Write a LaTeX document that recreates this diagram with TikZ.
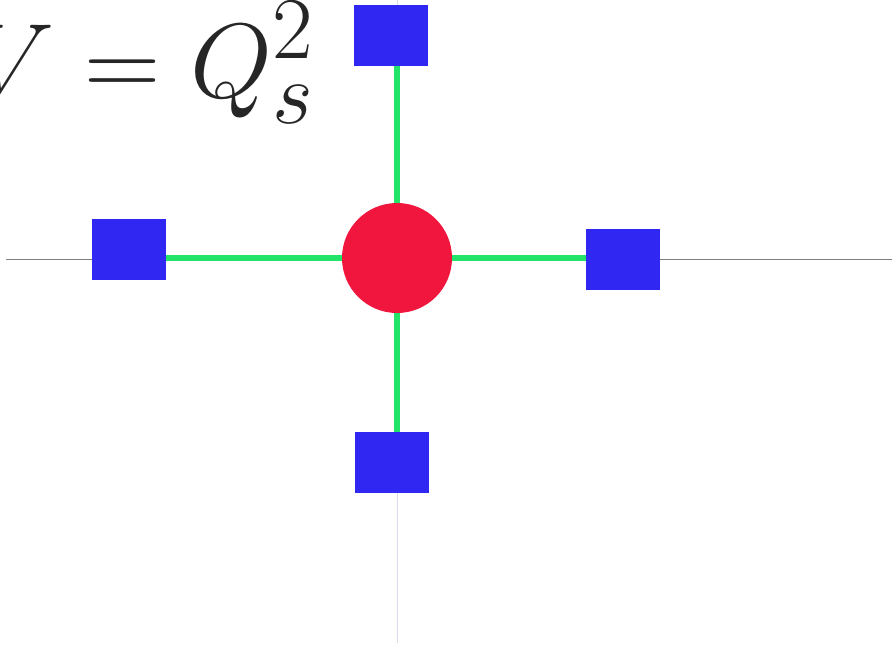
\documentclass[tikz,border=0pt]{standalone}
\usepackage{graphicx}
\usepackage{tikz}
\usetikzlibrary{
    positioning,
    backgrounds
}
\definecolor{siteblue}{RGB}{48,40,242}
\definecolor{corered}{RGB}{240,22,62}
\definecolor{bondgreen}{RGB}{34,228,104}
\definecolor{axisline}{RGB}{220,220,236}

\begin{document}
\begin{tikzpicture}[
        x=1pt, y=-1pt,
        every node/.style={inner sep=0pt, outer sep=0pt},
        site/.style={
            rectangle,
            fill=siteblue,
            minimum width=74pt,
            minimum height=61pt
        },
        core/.style={
            circle,
            fill=corered,
            minimum size=110pt
        },
        bond/.style={line width=6pt, draw=bondgreen},
        haxis/.style={line width=1pt, draw=black!50},
        vaxis/.style={line width=1.5pt, draw=axisline}
    ]
        \useasboundingbox (0,0) rectangle (894,648);

        % Label
        \node[anchor=base west, text=black!85] (label) at (-28,97)
            {\scalebox{4.25}{\Huge $V = Q_s^2$}};

        % Central site and its neighbours
        \node[core] (core) at (397,258) {};
        \node[site] (top) at (391,35.5) {};
        \node[site] (left) at (129,249) {};
        \node[site] (right) at (623,259) {};
        \node[site] (bottom) at (391.5,462.5) {};

        \coordinate (axl) at (6,259);
        \coordinate (axr) at (892,259);
        \coordinate (axt) at (397.5,0);
        \coordinate (axb) at (397.5,643);

        \begin{scope}[on background layer]
            \draw[haxis] (axl) -- (axr);
            \draw[vaxis] (axt) -- (axb);
            \draw[bond] (core.north) -- (core.north |- top.south);
            \draw[bond] (core.south) -- (core.south |- bottom.north);
            \draw[bond] (core.west) -- (core.west -| left.east);
            \draw[bond] (core.east) -- (core.east -| right.west);
        \end{scope}
    \end{tikzpicture}
\end{document}
